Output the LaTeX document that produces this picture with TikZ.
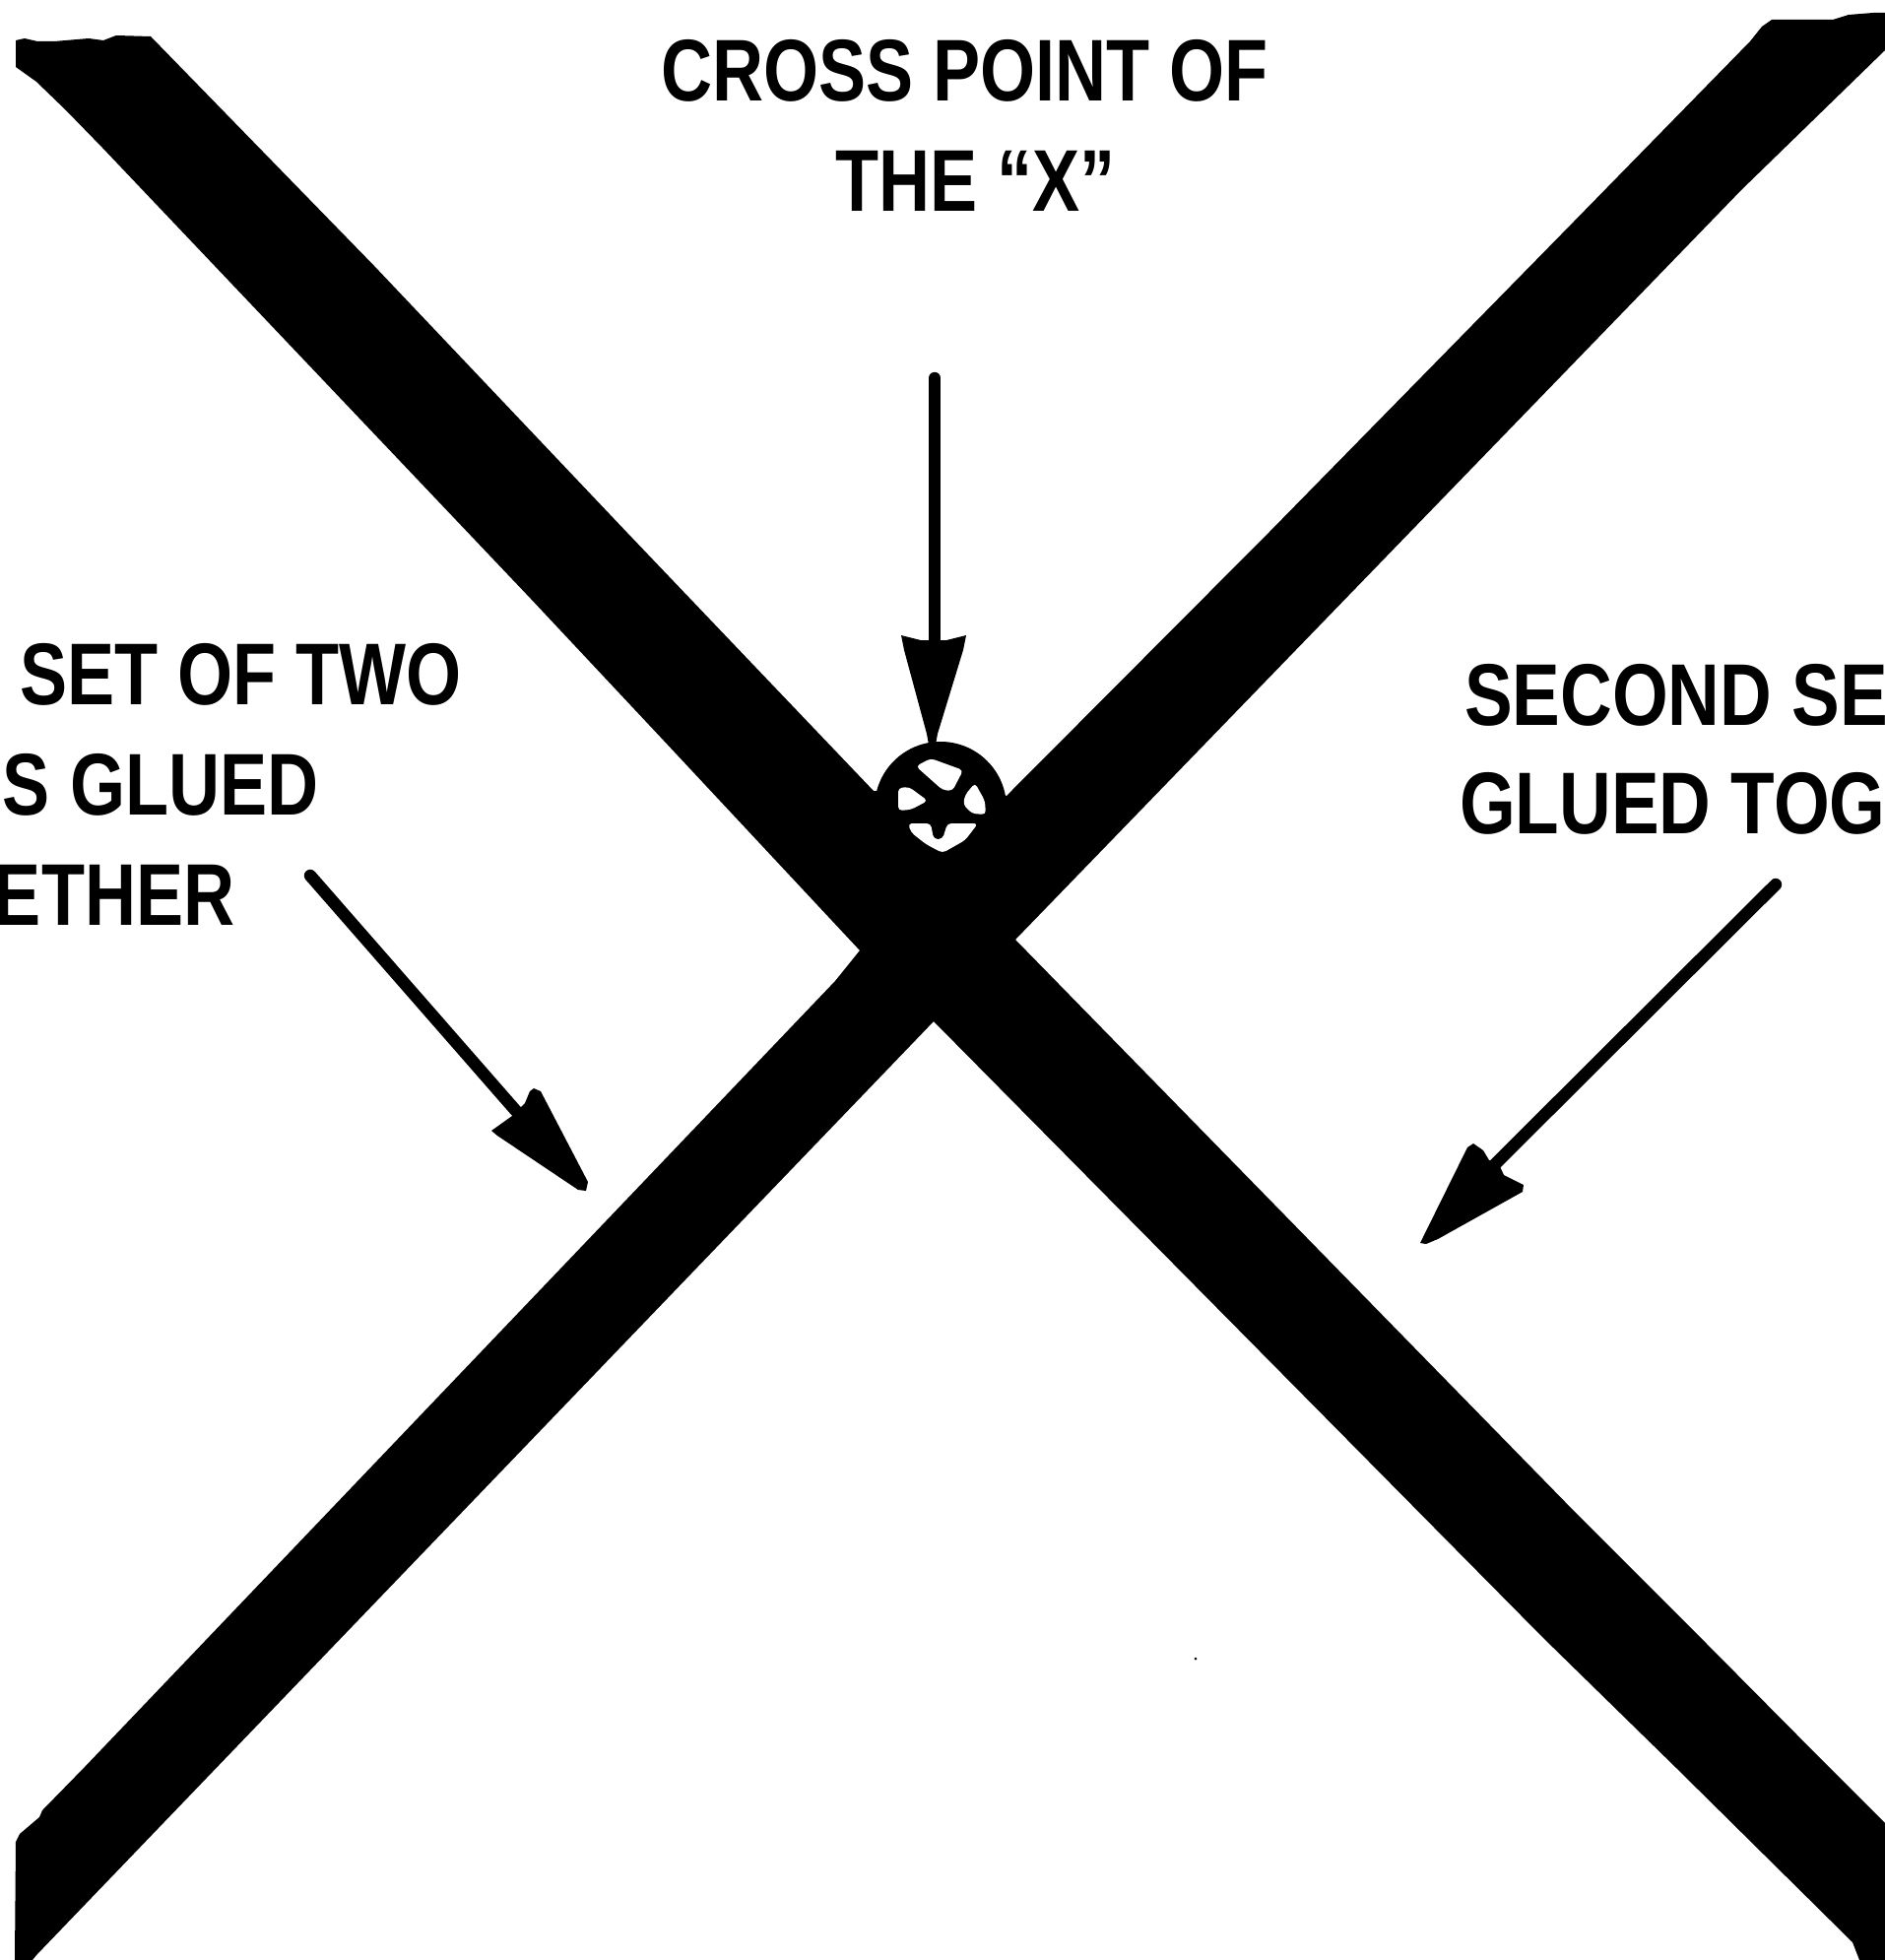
\documentclass[tikz,border=0pt]{standalone}
\usepackage{fontspec}
\setmainfont[FakeStretch=0.81]{Liberation Sans}
\newfontfamily\rightfont[FakeStretch=0.82]{Liberation Sans}
\tikzset{
  lab/.style={anchor=base west,inner sep=0pt,outer sep=0pt,font=\fontsize{44.5pt}{50pt}\selectfont\bfseries,text=black},
  labr/.style={lab,font=\rightfont\fontsize{44.5pt}{50pt}\selectfont\bfseries},
  ink/.style={fill=black,draw=none},
  hole/.style={fill=white,draw=none,rounded corners=2pt},
  shaft/.style={draw=black,line width=6.2pt,line cap=round}
}
\begin{document}
\begin{tikzpicture}[x=0.5pt,y=-0.5pt]
\useasboundingbox (0,0) rectangle (1914,1990);
\fill[white] (0,0) rectangle (1914,1990);
% the X
\fill[ink] (16,41)--(25,39)--(38,42)--(55,42)--(90,39)--(105,41)--(118,36)--(153,37)
 --(380,270)--(637,541)--(887,803)
 --(1022,808)--(1288,541)--(1597,226)--(1777,42)--(1789,27)--(1799,20)
 --(1861,20)--(1877,15)--(1902,13)--(1914,13)--(1914,51)--(1768,193)
 --(1031,954)--(1600,1536)--(1732,1668)--(1854,1791)--(1914,1851)--(1914,1990)
 --(1888,1990)--(1881,1972)--(1791,1883)--(1702,1795)--(1566,1662)
 --(948,1037)--(37,1985)--(33,1990)--(15,1990)
 --(16,1870)--(20,1862)--(40,1845)--(43,1838)--(86,1794)--(848,996)
 --(873,965)--(674,752)--(539,608)--(104,150)--(67,112)--(37,83)--(16,68)--cycle;
% the circled cross point
\node[circle,ink,minimum size=67pt,inner sep=0pt] (cross) at (955,820) {};
\fill[hole] (930,778)--(945,770)--(978,782)--(967,803)--(957,802)--cycle;
\fill[hole] (912,800)--(923,799)--(942,813)--(925,822)--(912,823)--cycle;
\fill[hole] (990,795)--(1000,813)--(1001,827)--(987,826)--(978,817)--(980,807)--cycle;
\fill[hole] (922,836)--(945,836)--(948,852)--(957,852)--(962,836)--(993,836)--(980,853)--(957,866)--(940,857)--(925,845)--cycle;
% speck
\node[circle,ink,minimum size=1.5pt,inner sep=0pt] (speck) at (1214,1684) {};
% labels
\node[lab] (top1) at (671,103) {CROSS POINT OF};
\node[lab] (top2) at (848,215) {THE ``X''};
\node[lab] (l1) at (20,715) {SET OF TWO};
\node[lab] (l2) at (3,827) {S GLUED};
\node[lab] (l3) at (-6,939) {ETHER};
\node[labr] (r1) at (1487,736) {SECOND SE};
\node[labr] (r2) at (1482,846) {GLUED TOG};
% arrows
\coordinate (a0) at (949,384);
\coordinate (a1) at (949,650);
\coordinate (b0) at (315,889);
\coordinate (b1) at (524,1128);
\coordinate (c0) at (1803,898);
\coordinate (c1) at (1516,1184);
\draw[shaft] (a0) -- (a1);
\draw[shaft] (b0) -- (b1);
\draw[shaft] (c0) -- (c1);
\fill[ink] (915,645)--(935,650)--(961,650)--(981,645)--(978,660)--(952,745)--(950,756)--(943,756)--(941,745)--(918,660)--cycle;
\fill[ink] (499,1148)--(520,1133)--(533,1120)--(538,1108)--(542,1105)--(549,1108)--(597,1200)--(595,1209)--(587,1208)--(505,1153)--cycle;
\fill[ink] (1442,1262)--(1490,1165)--(1496,1161)--(1506,1168)--(1512,1178)--(1520,1178)--(1527,1193)--(1547,1203)--(1546,1210)--(1460,1258)--(1448,1263)--cycle;
\end{tikzpicture}
\end{document}
